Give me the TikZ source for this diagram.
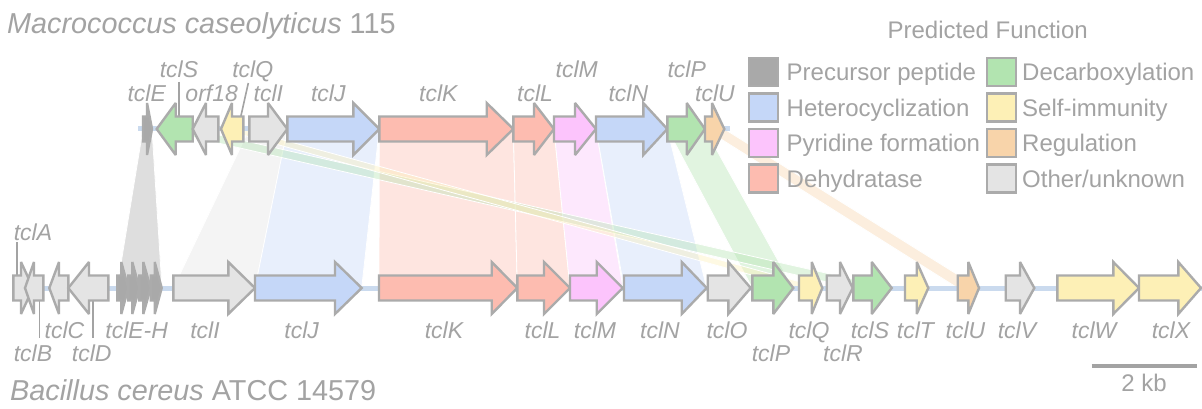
\documentclass[tikz,border=0pt]{standalone}
\usepackage{fontspec}
\setmainfont{Liberation Sans}
\definecolor{txt}{HTML}{A3A3A3}
\definecolor{stk}{HTML}{ABABAB}
\definecolor{cPre}{HTML}{A9A9A9}
\definecolor{cHet}{HTML}{C5D7F8}
\definecolor{cPyr}{HTML}{FCC4FC}
\definecolor{cDeh}{HTML}{FDBCB0}
\definecolor{cDec}{HTML}{B2E4B0}
\definecolor{cImm}{HTML}{FDF0B6}
\definecolor{cReg}{HTML}{F8D4AA}
\definecolor{cOth}{HTML}{E4E4E4}
\definecolor{axiscol}{HTML}{CADAEE}
\tikzset{
  genebox/.style={draw=stk, line width=2.4pt, line join=miter, miter limit=3},
  ribbon/.style={fill opacity=0.38, draw=white, line width=0.8pt},
  axisline/.style={draw=axiscol, line width=5pt},
  leader/.style={draw=txt, line width=1.6pt},
  glab/.style={font=\fontsize{23}{23}\selectfont\itshape, text=txt, inner sep=0pt, anchor=base},
  legtxt/.style={font=\fontsize{24}{24}\selectfont, text=txt, inner sep=0pt, anchor=base west},
  ttl/.style={font=\fontsize{28.8}{28.8}\selectfont, text=txt, inner sep=0pt, anchor=base west}
}
% right-pointing gene: x1, head start, tip, y, colour
\newcommand\genR[5]{\filldraw[genebox, fill=#5] (#1,#4-12.5) -- (#2,#4-12.5) -- (#2,#4-26) -- (#3,#4) -- (#2,#4+26) -- (#2,#4+12.5) -- (#1,#4+12.5) -- cycle;}
% left-pointing gene: tip, head end, x end, y, colour
\newcommand\genL[5]{\filldraw[genebox, fill=#5] (#1,#4) -- (#2,#4-26) -- (#2,#4-12.5) -- (#3,#4-12.5) -- (#3,#4+12.5) -- (#2,#4+12.5) -- (#2,#4+26) -- cycle;}
% ribbon: top x1, top x2, bottom x1, bottom x2, colour
\newcommand\rib[5]{\filldraw[ribbon, fill=#5] (#1,129) -- (#2,129) -- (#4,288) -- (#3,288) -- cycle;}
\begin{document}
\begin{tikzpicture}[x=1pt,y=-1pt]
\useasboundingbox[fill=white] (0,0) rectangle (1202,409);
% ribbons
\rib{143}{152}{117}{162}{cPre}
\rib{249.3}{287.3}{173.3}{255}{cOth}
\rib{287.3}{379.3}{255}{361.7}{cHet}
\rib{379.3}{513.3}{379}{517.3}{cDeh}
\rib{513.3}{554}{517.3}{570}{cDeh}
\rib{554}{596}{570}{623}{cPyr}
\rib{596}{667.3}{624}{706.7}{cHet}
\rib{667.3}{705}{752.3}{793.3}{cDec}
\rib{156.7}{192.7}{853.3}{891.7}{cDec}
\rib{221}{243.3}{799}{822.3}{cImm}
\rib{705}{724.3}{957.7}{979}{cReg}
% axes
\draw[axisline] (138,129) -- (730,129);
\draw[axisline] (12,288) -- (1202,288);
% leaders
\draw[leader] (179,82) -- (179,117);
\draw[leader] (248.3,83) -- (240.7,117);
\draw[leader] (713.5,104) -- (713.5,118);
\draw[leader] (16.7,242) -- (16.7,276);
\draw[leader] (39.3,300) -- (39.3,338);
\draw[leader] (92.7,300) -- (92.7,338);
% top genes
\genR{143}{147}{152}{129}{cPre}
\genL{156.7}{175.7}{192.7}{129}{cDec}
\genL{192.7}{206}{218.3}{129}{cOth}
\genL{221}{232}{243.3}{129}{cImm}
\genR{249.3}{268}{287.3}{129}{cOth}
\genR{287.3}{353.3}{379.3}{129}{cHet}
\genR{379.3}{486.7}{513.3}{129}{cDeh}
\genR{513.3}{534}{554}{129}{cDeh}
\genR{554}{575}{596}{129}{cPyr}
\genR{596}{643.3}{667.3}{129}{cHet}
\genR{667.3}{686.7}{705}{129}{cDec}
\genR{705}{712}{724.3}{129}{cReg}
% bottom genes
\genR{13.3}{21}{33}{288}{cOth}
\genL{25}{34}{43.3}{288}{cOth}
\genL{49.3}{59}{68.3}{288}{cOth}
\genL{68.3}{89}{108.3}{288}{cOth}
\genR{117.3}{121.3}{128.3}{288}{cPre}
\genR{128.3}{132.3}{139.3}{288}{cPre}
\genR{139.3}{143.3}{150.7}{288}{cPre}
\genR{150.7}{154.7}{161.7}{288}{cPre}
\genR{173.3}{228.3}{255}{288}{cOth}
\genR{255}{335}{361.7}{288}{cHet}
\genR{379}{491.7}{517.3}{288}{cDeh}
\genR{517.3}{544}{570}{288}{cDeh}
\genR{570}{596.7}{622.7}{288}{cPyr}
\genR{624}{681.7}{706.7}{288}{cHet}
\genR{707.7}{728.3}{750.7}{288}{cOth}
\genR{752.3}{773.3}{793.3}{288}{cDec}
\genR{799}{811.7}{822.3}{288}{cImm}
\genR{826.7}{840}{852.7}{288}{cOth}
\genR{853.3}{871.7}{891.7}{288}{cDec}
\genR{905}{916.7}{928.3}{288}{cImm}
\genR{957.7}{968.3}{979}{288}{cReg}
\genR{1005.7}{1020}{1034.3}{288}{cOth}
\genR{1057.3}{1113.3}{1139}{288}{cImm}
\genR{1139}{1178.3}{1201}{288}{cImm}
% top labels
\node[glab] (tS) at (179,78) {tclS};
\node[glab] (tQ) at (252.7,78) {tclQ};
\node[glab] (tM) at (576.7,78) {tclM};
\node[glab] (tP) at (686.7,78) {tclP};
\node[glab] (tE) at (146.7,101.5) {tclE};
\node[glab] (to) at (211.7,101.5) {orf18};
\node[glab] (tI) at (268.3,101.5) {tclI};
\node[glab] (tJ) at (328.3,101.5) {tclJ};
\node[glab] (tK) at (438.3,101.5) {tclK};
\node[glab] (tL) at (535,101.5) {tclL};
\node[glab] (tN) at (628.3,101.5) {tclN};
\node[glab] (tU) at (715,101.5) {tclU};
% bottom labels
\node[glab] (bA) at (33,240) {tclA};
\node[glab] (bC) at (64.5,338) {tclC};
\node[glab] (bEH) at (136.7,338) {tclE-H};
\node[glab] (bI) at (205,338) {tclI};
\node[glab] (bJ) at (301.7,338) {tclJ};
\node[glab] (bK) at (444,338) {tclK};
\node[glab] (bL) at (542.5,338) {tclL};
\node[glab] (bM) at (595,338) {tclM};
\node[glab] (bN) at (660,338) {tclN};
\node[glab] (bO) at (727,338) {tclO};
\node[glab] (bQ) at (809,338) {tclQ};
\node[glab] (bS) at (870,338) {tclS};
\node[glab] (bT) at (915.5,338) {tclT};
\node[glab] (bU) at (965.5,338) {tclU};
\node[glab] (bV) at (1017,338) {tclV};
\node[glab] (bW) at (1094,338) {tclW};
\node[glab] (bX) at (1171,338) {tclX};
\node[glab] (bB) at (33,361.5) {tclB};
\node[glab] (bD) at (91.7,361.5) {tclD};
\node[glab] (bP) at (771,361.5) {tclP};
\node[glab] (bR) at (843,361.5) {tclR};
% titles
\node[ttl] (t1) at (7,33.5) {\itshape Macrococcus caseolyticus\upshape\ 115};
\node[ttl] (t2) at (10,400) {\itshape Bacillus cereus\upshape\ ATCC 14579};
% legend
\node[font=\fontsize{24}{24}\selectfont, text=txt, inner sep=0pt, anchor=base] (lt) at (987.7,38.3) {Predicted Function};
\filldraw[genebox, fill=cPre] (749,58) rectangle (778,86);
\filldraw[genebox, fill=cHet] (749,93.5) rectangle (778,121.5);
\filldraw[genebox, fill=cPyr] (749,129) rectangle (778,157);
\filldraw[genebox, fill=cDeh] (749,164.5) rectangle (778,192.5);
\filldraw[genebox, fill=cDec] (987,58) rectangle (1016,86);
\filldraw[genebox, fill=cImm] (987,93.5) rectangle (1016,121.5);
\filldraw[genebox, fill=cReg] (987,129) rectangle (1016,157);
\filldraw[genebox, fill=cOth] (987,164.5) rectangle (1016,192.5);
\node[legtxt] (l1) at (786.5,81) {Precursor peptide};
\node[legtxt] (l2) at (786.5,116.5) {Heterocyclization};
\node[legtxt] (l3) at (786.5,152) {Pyridine formation};
\node[legtxt] (l4) at (786.5,187.5) {Dehydratase};
\node[legtxt] (l5) at (1022,81) {Decarboxylation};
\node[legtxt] (l6) at (1022,116.5) {Self-immunity};
\node[legtxt] (l7) at (1022,152) {Regulation};
\node[legtxt] (l8) at (1022,187.5) {Other/unknown};
% scale bar
\draw[draw=txt, line width=4pt] (1091.7,365.7) -- (1196.7,365.7);
\node[font=\fontsize{24}{24}\selectfont, text=txt, inner sep=0pt, anchor=base] (kb) at (1144,391.7) {2 kb};
\end{tikzpicture}
\end{document}
